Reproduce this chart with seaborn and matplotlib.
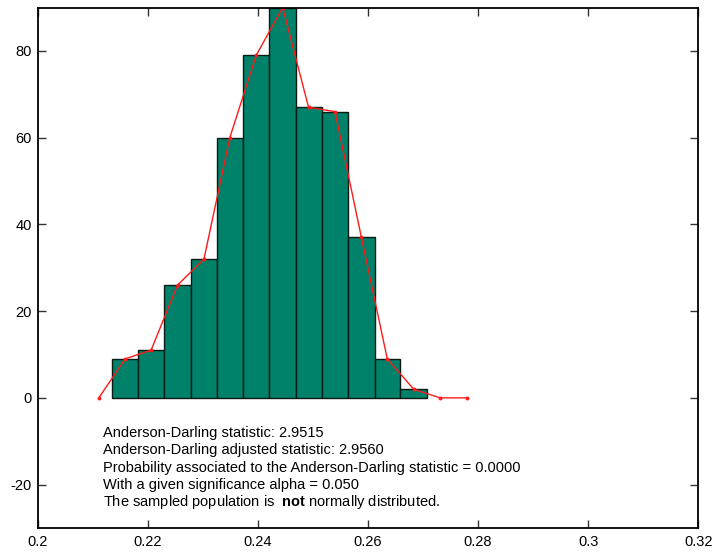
import matplotlib
matplotlib.use("Agg")
import matplotlib.pyplot as plt
import seaborn as sns
import numpy as np

# ---- data ----
bin_edges = [0.2135, 0.2183, 0.2230, 0.2278, 0.2326, 0.2373, 0.2421,
             0.2469, 0.2516, 0.2564, 0.2612, 0.2659, 0.2707]
bin_centers = [0.2159, 0.2206, 0.2254, 0.2302, 0.2349, 0.2397,
               0.2445, 0.2492, 0.2540, 0.2588, 0.2635, 0.2683]
counts = [9, 11, 26, 32, 60, 79, 90, 67, 66, 37, 9, 2]
poly_x = [0.2111] + bin_centers + [0.2731, 0.2779]
poly_y = [0] + counts + [0, 0]
x_ticks = [0.2, 0.22, 0.24, 0.26, 0.28, 0.3, 0.32]
y_ticks = [-20, 0, 20, 40, 60, 80]
stats_lines = [
    "Anderson-Darling statistic: 2.9515",
    "Anderson-Darling adjusted statistic: 2.9560",
    "Probability associated to the Anderson-Darling statistic = 0.0000",
    "With a given significance alpha = 0.050",
    r"The sampled population is  $\mathbf{not}$ normally distributed.",
]

sns.set_style("white")
plt.rcParams["font.family"] = ["Liberation Sans", "DejaVu Sans"]
plt.rcParams["mathtext.fontset"] = "custom"
plt.rcParams["mathtext.rm"] = "Liberation Sans"
plt.rcParams["mathtext.bf"] = "Liberation Sans:bold"

fig = plt.figure(figsize=(7.15, 5.53), dpi=100)
ax = fig.add_axes([0.0527, 0.0452, 0.9240, 0.9412])

sns.histplot(x=bin_centers, weights=counts, bins=bin_edges, ax=ax,
             color="#00826a", edgecolor="#0a1a14", linewidth=1.0, alpha=1.0)
sns.lineplot(x=poly_x, y=poly_y, ax=ax, color="#ff1a1a", linewidth=1.0,
             marker="o", markersize=2.8, markeredgewidth=0, sort=False)

ax.set_xlim(0.2, 0.32)
ax.set_ylim(-30, 90)
ax.set_xticks(x_ticks)
ax.set_xticklabels([f"{v:g}" for v in x_ticks])
ax.set_yticks(y_ticks)
ax.set_yticklabels([f"{v:g}" for v in y_ticks])
ax.set_xlabel("")
ax.set_ylabel("")
ax.tick_params(axis="both", direction="in", length=6, width=1.0,
               labelsize=10.5, colors="#333333", labelcolor="black",
               top=True, right=True, bottom=True, left=True)
ax.tick_params(axis="x", pad=5)
ax.tick_params(axis="y", pad=4)
for s in ax.spines.values():
    s.set_visible(True)
    s.set_color("black")
    s.set_linewidth(1.3)

y0 = 0.1825
for i, line in enumerate(stats_lines):
    ax.text(0.099, y0 - i * 0.0332, line, transform=ax.transAxes,
            fontsize=10.5, va="center", ha="left", color="black")

fig.savefig("out.png", dpi=100)
